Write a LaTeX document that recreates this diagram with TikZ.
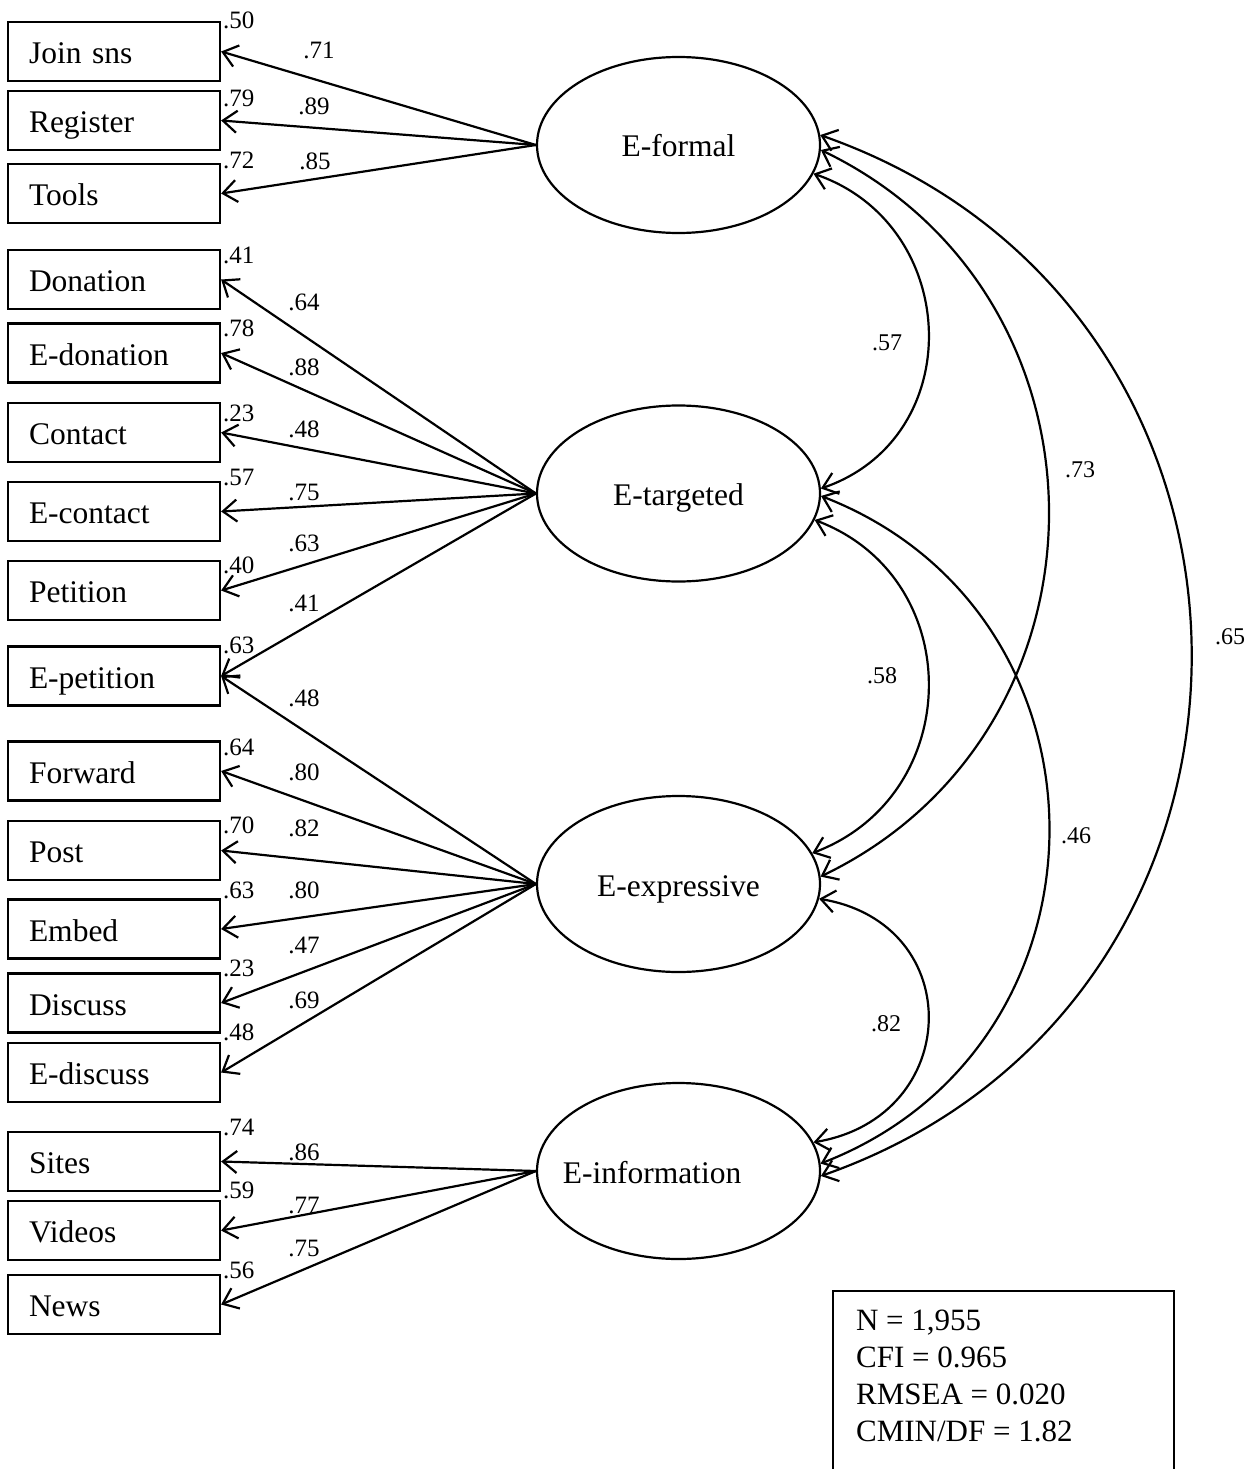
\documentclass[tikz,border=0pt]{standalone}
\usepackage{fontspec}
\setmainfont{Liberation Serif}
\usetikzlibrary{shapes.geometric,arrows.meta}
\begin{document}
\begin{tikzpicture}[x=1pt,y=-1pt,line width=2.2pt,
  >={Straight Barb[length=14pt,width=22pt]},
  obs/.style={draw,rectangle,minimum width=212pt,minimum height=59pt,text width=170pt,
    inner xsep=21pt,inner ysep=0pt,align=left,font=\fontsize{31.5}{37}\selectfont,
    text height=24pt,text depth=0pt},
  lat/.style={draw,ellipse,minimum width=283pt,minimum height=176pt,inner sep=0pt,
    font=\fontsize{31.5}{37}\selectfont,text height=24pt,text depth=0pt},
  lab/.style={font=\fontsize{25}{30}\selectfont,inner sep=0pt},
  rsq/.style={lab,anchor=west},
  corr/.style={font=\fontsize{24}{28}\selectfont,inner sep=0pt}]
\useasboundingbox (0,0) rectangle (1253,1469);

% observed variables
\node[obs] (joinsns) at (114,51.5) {Join sns};
\node[obs] (register) at (114,120.5) {Register};
\node[obs] (tools) at (114,193.5) {Tools};
\node[obs] (donation) at (114,279.5) {Donation};
\node[obs] (edonation) at (114,353) {E-donation};
\node[obs] (contact) at (114,432.5) {Contact};
\node[obs] (econtact) at (114,511.5) {E-contact};
\node[obs] (petition) at (114,590.5) {Petition};
\node[obs] (epetition) at (114,676) {E-petition};
\node[obs] (forward) at (114,771) {Forward};
\node[obs] (post) at (114,850.5) {Post};
\node[obs] (embed) at (114,929) {Embed};
\node[obs] (discuss) at (114,1003) {Discuss};
\node[obs] (ediscuss) at (114,1072.5) {E-discuss};
\node[obs] (sites) at (114,1161.5) {Sites};
\node[obs] (videos) at (114,1230.5) {Videos};
\node[obs] (news) at (114,1304.5) {News};

% latent variables
\node[lat] (ef) at (678.5,145) {E-formal};
\node[lat] (et) at (678.5,493.5) {E-targeted};
\node[lat] (ee) at (678.5,884) {E-expressive};
\node[lat] (ei) at (678.5,1171) {};
\node[font=\fontsize{31.5}{37}\selectfont,inner sep=0pt,text height=24pt,text depth=0pt] (eitext) at (652,1171) {E-information};

% loadings
\draw[->] (ef.west) -- (joinsns.east);
\draw[->] (ef.west) -- (register.east);
\draw[->] (ef.west) -- (tools.east);
\draw[->] (et.west) -- (donation.east);
\draw[->] (et.west) -- (edonation.east);
\draw[->] (et.west) -- (contact.east);
\draw[->] (et.west) -- (econtact.east);
\draw[->] (et.west) -- (petition.east);
\draw[->] (et.west) -- (epetition.east);
\draw[->] (ee.west) -- (epetition.east);
\draw[->] (ee.west) -- (forward.east);
\draw[->] (ee.west) -- (post.east);
\draw[->] (ee.west) -- (embed.east);
\draw[->] (ee.west) -- (discuss.east);
\draw[->] (ee.west) -- (ediscuss.east);
\draw[->] (ei.west) -- (sites.east);
\draw[->] (ei.west) -- (videos.east);
\draw[->] (ei.west) -- (news.east);

% loading labels
\node[lab] (l1) at (319,50) {.71};
\node[lab] (l2) at (314,106) {.89};
\node[lab] (l3) at (315,161) {.85};
\node[lab] (l4) at (304,302) {.64};
\node[lab] (l5) at (304,367) {.88};
\node[lab] (l6) at (304,429) {.48};
\node[lab] (l7) at (304,492) {.75};
\node[lab] (l8) at (304,543) {.63};
\node[lab] (l9) at (304,603) {.41};
\node[lab] (l10) at (304,698) {.48};
\node[lab] (l11) at (304,772) {.80};
\node[lab] (l12) at (304,828) {.82};
\node[lab] (l13) at (304,890) {.80};
\node[lab] (l14) at (304,945) {.47};
\node[lab] (l15) at (304,1000) {.69};
\node[lab] (l16) at (304,1152) {.86};
\node[lab] (l17) at (304,1205) {.77};
\node[lab] (l18) at (304,1248) {.75};

% squared multiple correlations
\node[rsq] (r1) at (222,20) {.50};
\node[rsq] (r2) at (222,98) {.79};
\node[rsq] (r3) at (222,160) {.72};
\node[rsq] (r4) at (222,255) {.41};
\node[rsq] (r5) at (222,328) {.78};
\node[rsq] (r6) at (222,413) {.23};
\node[rsq] (r7) at (222,477) {.57};
\node[rsq] (r8) at (222,565) {.40};
\node[rsq] (r9) at (222,645) {.63};
\node[rsq] (r10) at (222,747) {.64};
\node[rsq] (r11) at (222,825) {.70};
\node[rsq] (r12) at (222,890) {.63};
\node[rsq] (r13) at (222,968) {.23};
\node[rsq] (r14) at (222,1032) {.48};
\node[rsq] (r15) at (222,1127) {.74};
\node[rsq] (r16) at (222,1190) {.59};
\node[rsq] (r17) at (222,1270) {.56};

% correlations
\draw[<->] (ef.-12.7) .. controls +(148,51) and +(148,-51) .. (et.2.4);
\draw[<->] (ef.-2) .. controls +(303.5,146) and +(303.5,-146) .. (ee.3.6);
\draw[<->] (ef.4.9) .. controls +(494,173) and +(494,-173) .. (ei.-2.8);
\draw[<->] (et.-11.1) .. controls +(153,58) and +(153,-58) .. (ee.13.2);
\draw[<->] (et.-1.6) .. controls +(304,118) and +(304,-118) .. (ei.3.2);
\draw[<->] (ee.-6.6) .. controls +(149,25) and +(149,-25) .. (ei.12.7);

\node[corr] (c1) at (887,343) {.57};
\node[corr] (c2) at (882,676) {.58};
\node[corr] (c3) at (886,1024) {.82};
\node[corr] (c4) at (1080,470) {.73};
\node[corr] (c5) at (1076,836) {.46};
\node[corr] (c6) at (1230,637) {.65};

% fit statistics
\draw (833,1469) -- (833,1291) -- (1174,1291) -- (1174,1469);
\node[anchor=north west,inner sep=0pt,align=left,font=\fontsize{31}{37}\selectfont] (fit) at (855,1309)
  {N = 1,955\\CFI = 0.965\\RMSEA = 0.020\\CMIN/DF = 1.82};
\end{tikzpicture}
\end{document}
